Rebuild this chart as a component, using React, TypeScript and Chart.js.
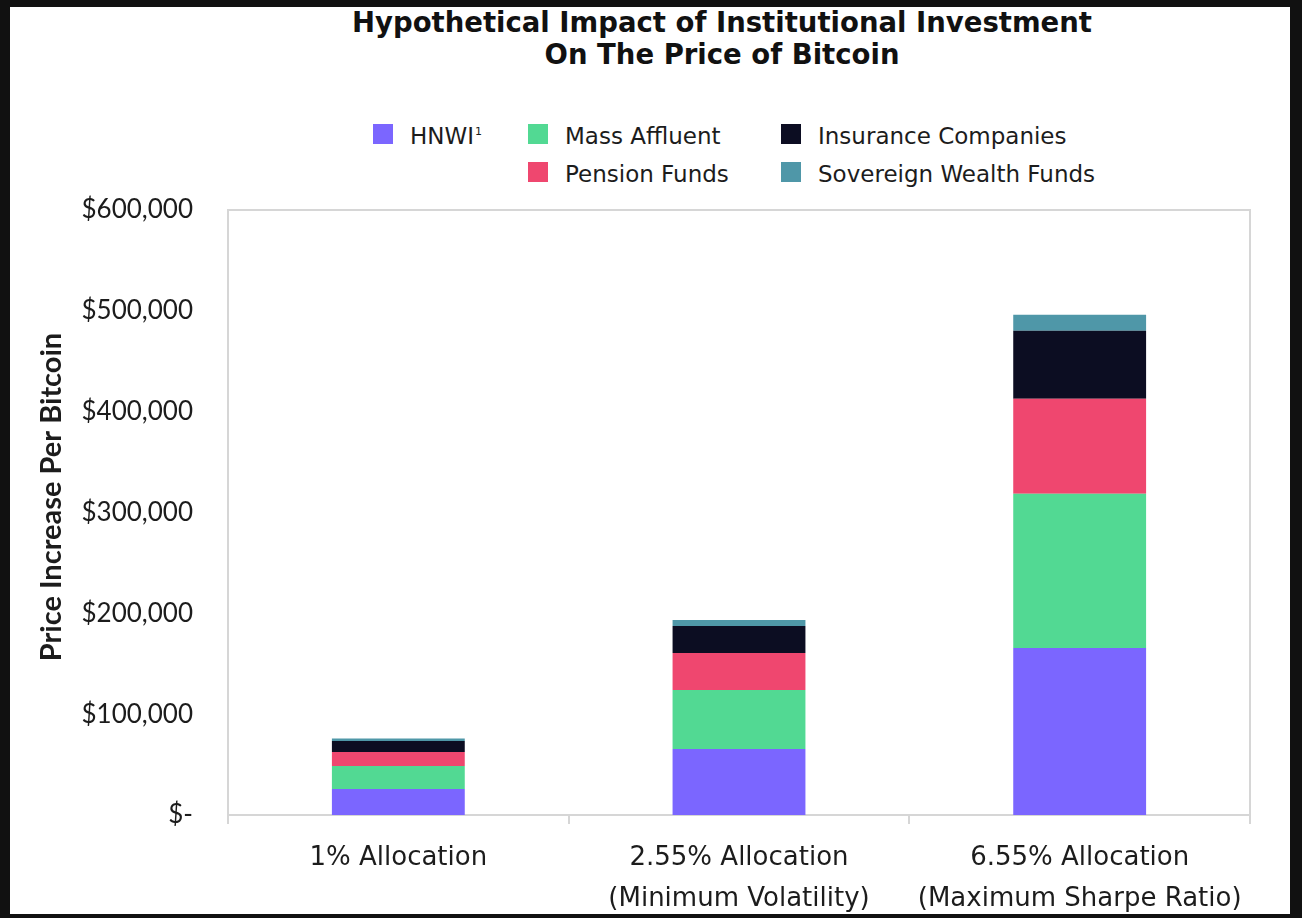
import { useEffect, useRef } from 'react';
import { Chart, registerables } from 'chart.js';

Chart.register(...registerables);

const categories = [
  ['1% Allocation'],
  ['2.55% Allocation', '(Minimum Volatility)'],
  ['6.55% Allocation', '(Maximum Sharpe Ratio)'],
];

const seriesNames = ['HNWI', 'Mass Affluent', 'Pension Funds', 'Insurance Companies', 'Sovereign Wealth Funds'];
const seriesColors = ['#7B66FF', '#52D993', '#EF476F', '#0C0D22', '#4F97A8'];

const hnwi = [25800, 65500, 165700];
const massAffluent = [22800, 58500, 152800];
const pensionFunds = [13900, 36700, 94200];
const insuranceCompanies = [10900, 26800, 67500];
const sovereignWealthFunds = [2500, 6000, 15900];

const seriesValues = [hnwi, massAffluent, pensionFunds, insuranceCompanies, sovereignWealthFunds];

const yTicks = [0, 100000, 200000, 300000, 400000, 500000, 600000];
const yTitle = 'Price Increase Per Bitcoin';

// legend grid slots (column, row) per series, like the original Excel legend
const legendSlots = [
  [0, 0],
  [1, 0],
  [1, 1],
  [2, 0],
  [2, 1],
];
const legendColLeft = [363, 518, 771];
const legendRowTop = [117, 155];

const LATO = 'Lato, "Open Sans", sans-serif';
const DEJAVU = '"DejaVu Sans", Verdana, sans-serif';
const TEXT = '#1c1c1c';
const LINE = '#d6d6d6';

const plotFrame = {
  id: 'plotFrame',
  beforeDatasetsDraw(chart: Chart) {
    const { ctx, chartArea } = chart;
    ctx.save();
    ctx.strokeStyle = LINE;
    ctx.lineWidth = 2;
    ctx.beginPath();
    ctx.moveTo(chartArea.left, chartArea.bottom);
    ctx.lineTo(chartArea.left, chartArea.top);
    ctx.lineTo(chartArea.right, chartArea.top);
    ctx.lineTo(chartArea.right, chartArea.bottom);
    ctx.stroke();
    ctx.restore();
  },
};

// rotated y-axis title, placed a little above the plot's middle as in the original
const yAxisTitle = {
  id: 'yAxisTitle',
  afterDraw(chart: Chart) {
    const { ctx } = chart;
    ctx.save();
    ctx.translate(42, 490);
    ctx.rotate(-Math.PI / 2);
    ctx.fillStyle = TEXT;
    ctx.font = `bold 29px ${LATO}`;
    ctx.textAlign = 'center';
    ctx.textBaseline = 'middle';
    ctx.fillText(yTitle, 0, 0);
    ctx.restore();
  },
};

export default function App() {
  const canvasRef = useRef<HTMLCanvasElement>(null);
  const chartRef = useRef<Chart | null>(null);

  useEffect(() => {
    if (!canvasRef.current) return;
    if (chartRef.current) chartRef.current.destroy();

    chartRef.current = new Chart(canvasRef.current, {
      type: 'bar',
      data: {
        labels: categories,
        datasets: seriesNames.map((name, i) => ({
          label: name,
          data: seriesValues[i],
          backgroundColor: seriesColors[i],
          borderWidth: 0,
          categoryPercentage: 1,
          barPercentage: 0.39,
        })),
      },
      options: {
        animation: false,
        responsive: true,
        maintainAspectRatio: false,
        layout: { padding: { top: 203, right: 40, left: 0, bottom: 0 } },
        plugins: {
          legend: { display: false },
          title: { display: false },
          tooltip: { enabled: false },
        },
        scales: {
          x: {
            stacked: true,
            afterFit: (scale: any) => {
              scale.height = 99;
            },
            grid: {
              display: true,
              drawOnChartArea: false,
              drawTicks: true,
              tickLength: 9,
              color: LINE,
              lineWidth: 2,
              offset: true,
            },
            border: { display: true, color: LINE, width: 2 },
            ticks: {
              color: TEXT,
              padding: 14,
              maxRotation: 0,
              autoSkip: false,
              font: { family: DEJAVU, size: 26, lineHeight: 41 / 26 },
            },
          },
          y: {
            stacked: true,
            min: 0,
            max: 600000,
            afterFit: (scale: any) => {
              scale.width = 218;
            },
            afterBuildTicks: (scale: any) => {
              scale.ticks = yTicks.map((v) => ({ value: v }));
            },
            grid: { display: false, drawTicks: false },
            border: { display: false },
            ticks: {
              color: TEXT,
              padding: 35,
              font: { family: LATO, size: 26 },
              callback: (v: any) => (Number(v) === 0 ? '$-' : '$' + Number(v).toLocaleString('en-US')),
            },
          },
        },
      },
      plugins: [plotFrame, yAxisTitle],
    });

    return () => {
      if (chartRef.current) {
        chartRef.current.destroy();
        chartRef.current = null;
      }
    };
  }, []);

  return (
    <div style={{ position: 'fixed', inset: 0, background: '#111' }}>
      <div
        style={{
          position: 'absolute',
          left: 10,
          top: 7,
          width: 1280,
          height: 907,
          background: '#fff',
          fontFamily: DEJAVU,
          color: TEXT,
        }}
      >
        <div
          style={{
            position: 'absolute',
            left: 712,
            top: -1,
            transform: 'translateX(-50%)',
            whiteSpace: 'nowrap',
            textAlign: 'center',
            fontWeight: 'bold',
            fontSize: 27.5,
            lineHeight: '32px',
            color: '#111',
          }}
        >
          Hypothetical Impact of Institutional Investment
          <br />
          On The Price of Bitcoin
        </div>

        {seriesNames.map((name, i) => (
          <div
            key={name}
            style={{
              position: 'absolute',
              left: legendColLeft[legendSlots[i][0]],
              top: legendRowTop[legendSlots[i][1]],
              height: 20,
              display: 'flex',
              alignItems: 'center',
              whiteSpace: 'nowrap',
              fontSize: 23,
            }}
          >
            <span style={{ width: 20, height: 20, background: seriesColors[i], marginRight: 17 }} />
            <span style={{ position: 'relative', top: 2 }}>
              {name}
              {i === 0 && <sup style={{ fontSize: 11, marginLeft: 1 }}>1</sup>}
            </span>
          </div>
        ))}

        <div style={{ position: 'absolute', left: 0, top: 0, width: 1280, height: 907 }}>
          <canvas ref={canvasRef} />
        </div>
      </div>
    </div>
  );
}
